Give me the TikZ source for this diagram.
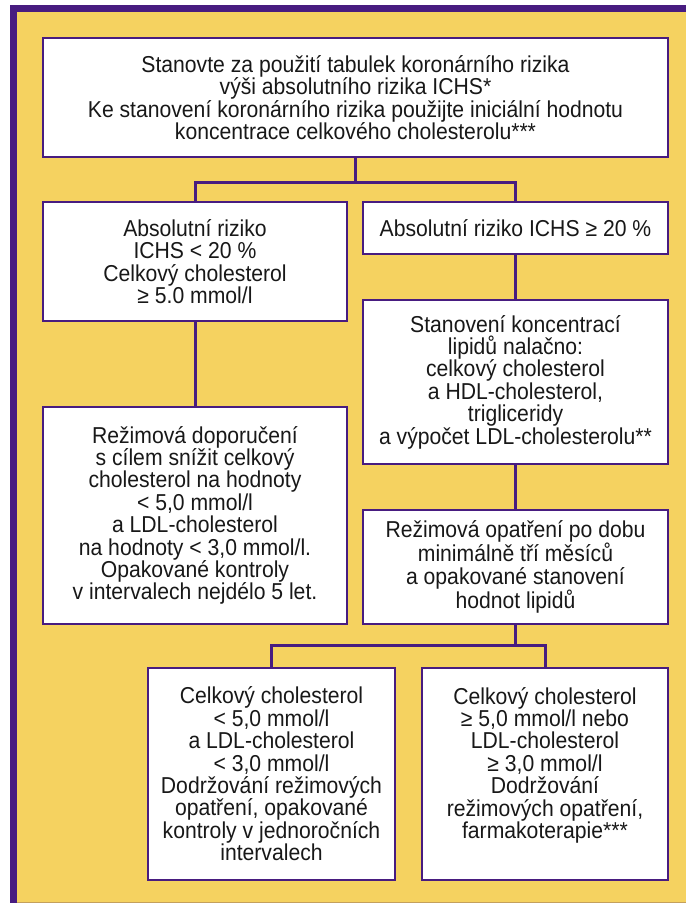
\documentclass[tikz,border=0pt]{standalone}
\usepackage{fontspec}
\setmainfont[FakeStretch=0.92]{Liberation Sans}
\definecolor{rampurple}{RGB}{72,28,128}
\definecolor{ramyellow}{RGB}{245,210,96}
\definecolor{ramedge}{RGB}{196,160,92}
\definecolor{ramtext}{RGB}{24,24,24}
\tikzset{
    krok/.style={draw=rampurple, line width=2.6pt, fill=white, align=center,
        inner sep=2pt, text=ramtext, font=\fontsize{23}{22.4}\selectfont},
    spoj/.style={draw=rampurple, line width=3pt, line join=miter}
}
\begin{document}
\begin{tikzpicture}[x=1pt,y=-1pt]
    \useasboundingbox (0,0) rectangle (686,903);
    \fill[ramyellow] (10,5) rectangle (686,903);
    \draw[ramedge, line width=1pt] (17,902) -- (686,902);
    \fill[rampurple] (10,5) rectangle (686,11.5);
    \fill[rampurple] (10,5) rectangle (17,903);

    \node[krok, minimum width=625pt, minimum height=119pt] (riziko) at (355.5,97.5)
        {Stanovte za použití tabulek koronárního rizika\\
         výši absolutního rizika ICHS*\\
         Ke stanovení koronárního rizika použijte iniciální hodnotu\\
         koncentrace celkového cholesterolu***};
    \node[krok, minimum width=304pt, minimum height=119pt] (nizke) at (195,261.5)
        {Absolutní riziko\\ ICHS < 20 \%\\ Celkový cholesterol\\ ≥ 5.0 mmol/l};
    \node[krok, minimum width=305pt, minimum height=52pt] (vysoke) at (515.5,228)
        {Absolutní riziko ICHS ≥ 20 \%};
    \node[krok, minimum width=305pt, minimum height=164pt] (lipidy) at (515.5,382)
        {Stanovení koncentrací\\ lipidů nalačno:\\ celkový cholesterol\\
         a HDL-cholesterol,\\ trigliceridy\\ a výpočet LDL-cholesterolu**};
    \node[krok, minimum width=304pt, minimum height=217pt] (doporuceni) at (195,515.5)
        {Režimová doporučení\\ s cílem snížit celkový\\ cholesterol na hodnoty\\
         < 5,0 mmol/l\\ a LDL-cholesterol\\ na hodnoty < 3,0 mmol/l.\\
         Opakované kontroly\\ v intervalech nejdélo 5 let.};
    \node[krok, minimum width=305pt, minimum height=114pt] (opatreni) at (515.5,567)
        {Režimová opatření po dobu\\ minimálně tří měsíců\\
         a opakované stanovení\\ hodnot lipidů};
    \node[krok, minimum width=247pt, minimum height=212pt] (kontroly) at (271.5,774)
        {Celkový cholesterol\\ < 5,0 mmol/l\\ a LDL-cholesterol\\ < 3,0 mmol/l\\
         Dodržování režimových\\ opatření, opakované\\
         kontroly v jednoročních\\ intervalech};
    \node[krok, minimum width=246pt, minimum height=212pt] (terapie) at (545,774)
        {Celkový cholesterol\\ ≥ 5,0 mmol/l nebo\\ LDL-cholesterol\\ ≥ 3,0 mmol/l\\
         Dodržování\\ režimových opatření,\\ farmakoterapie***\\ \mbox{}};

    \coordinate (rozc1) at (355.5,182);
    \coordinate (rozc2) at (515.5,645);
    \draw[spoj] (riziko.south) -- (rozc1);
    \draw[spoj] (nizke.north) -- (nizke.north |- rozc1) -- (vysoke.north |- rozc1) -- (vysoke.north);
    \draw[spoj] (vysoke.south) -- (lipidy.north);
    \draw[spoj] (nizke.south) -- (doporuceni.north);
    \draw[spoj] (lipidy.south) -- (opatreni.north);
    \draw[spoj] (opatreni.south) -- (rozc2);
    \draw[spoj] (kontroly.north) -- (kontroly.north |- rozc2) -- (terapie.north |- rozc2) -- (terapie.north);
\end{tikzpicture}
\end{document}
